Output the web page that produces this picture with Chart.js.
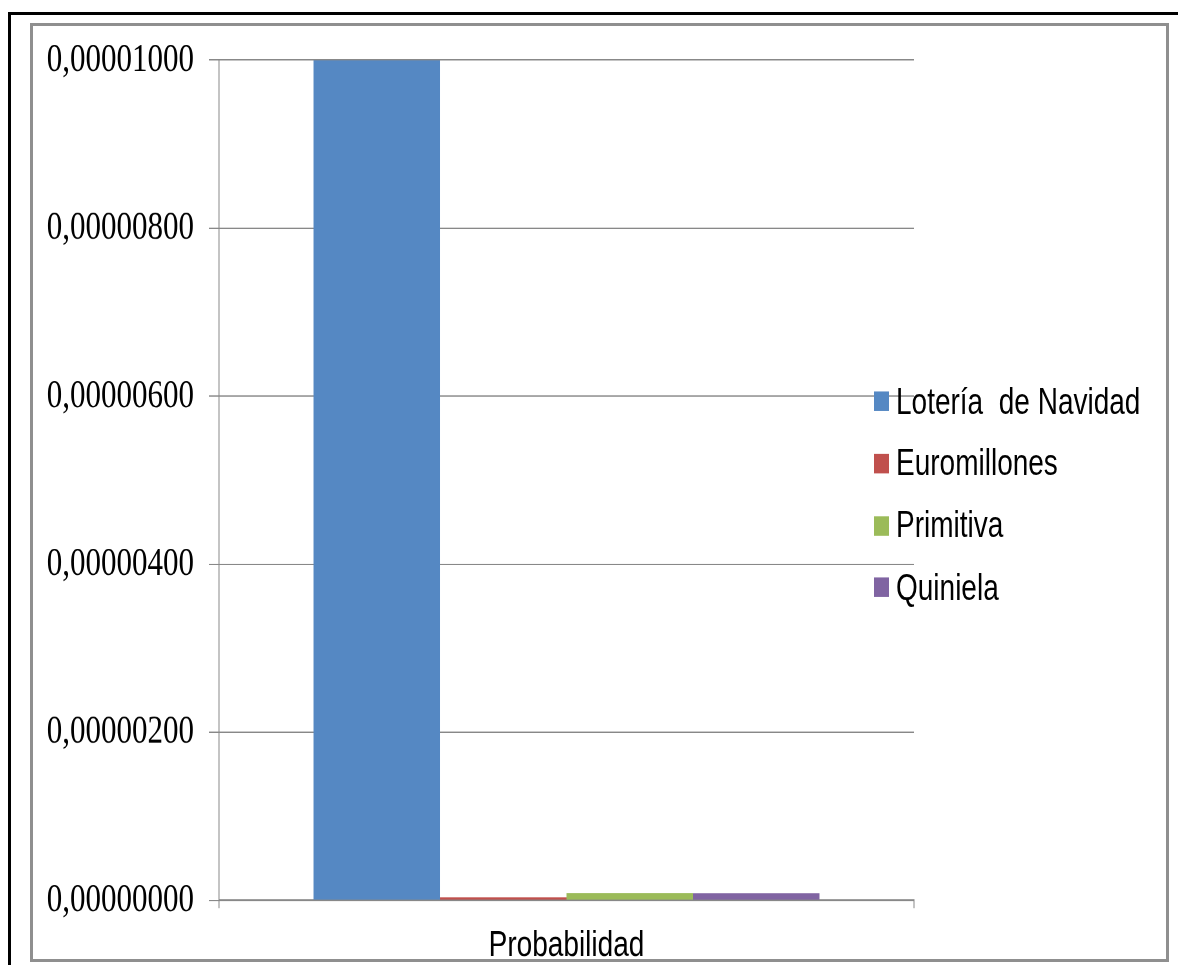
<!DOCTYPE html>
<html>
<head>
<meta charset="utf-8">
<script src="https://cdn.jsdelivr.net/npm/chart.js@4.4.1/dist/chart.umd.min.js"></script>
<style>
  html, body { margin: 0; padding: 0; background: #fff; width: 1178px; height: 965px; overflow: hidden; }
  #frame-outer { position: absolute; left: 8px; top: 12px; width: 1300px; height: 1100px; border: 3px solid #000; box-sizing: border-box; }
  #frame-inner { position: absolute; left: 30px; top: 23px; width: 1139px; height: 939px; border: 3px solid #8f8f8f; box-sizing: border-box; }
  /* the source picture is stretched vertically, so the whole chart is too */
  #stage { position: absolute; left: 0; top: 0; width: 1178px; height: 742px; transform-origin: 0 0; transform: scaleY(1.3005); }
  #stage canvas { position: absolute; left: 0; top: 0; }
  .item { position: absolute; left: 874px; height: 34px; display: flex; align-items: center; white-space: pre;
          font: 28px "Liberation Sans", Arial, sans-serif; color: #000; }
  .swatch { width: 15px; height: 15px; margin-right: 7px; }
</style>
</head>
<body>
<div id="frame-outer"></div>
<div id="frame-inner"></div>
<div id="stage">
  <canvas id="chart" width="1178" height="742"></canvas>
  <div id="legend"></div>
</div>
<script>
// Probabilidad de ganar: Lotería de Navidad vs Euromillones, Primitiva, Quiniela

const categories = ["Probabilidad"];
const seriesNames = ["Lotería  de Navidad", "Euromillones", "Primitiva", "Quiniela"];
const seriesValues = [0.00001, 0.000000035, 0.000000088, 0.000000085];
const yTicks = [0, 0.000002, 0.000004, 0.000006, 0.000008, 0.00001];

const COLORS = ["#5588c3", "#c0504d", "#9bbb59", "#8064a2"];
const GRID = "#888888";

const chart = new Chart(document.getElementById("chart"), {
  type: "bar",
  data: {
    labels: categories,
    datasets: seriesNames.map((name, i) => ({
      label: name,
      data: [seriesValues[i]],
      backgroundColor: COLORS[i],
      borderWidth: 0,
      categoryPercentage: 0.728,
      barPercentage: 1,
    })),
  },
  options: {
    responsive: false,
    animation: false,
    devicePixelRatio: 2,
    layout: { padding: { left: 0, right: 264, top: 46.2, bottom: 0 } },
    plugins: { legend: { display: false }, tooltip: { enabled: false } },
    scales: {
      x: {
        z: 1,
        grid: { offset: true, drawOnChartArea: false, drawTicks: true, tickLength: 6, color: GRID, lineWidth: 1 },
        border: { display: true, color: GRID, width: 1.5 },
        ticks: { color: "#000", padding: 12, font: { family: "'Liberation Sans', Arial, sans-serif", size: 28 } },
        afterFit: s => { s.height = 49.7; },
      },
      y: {
        min: 0,
        max: 0.00001,
        afterBuildTicks: s => { s.ticks = yTicks.map(v => ({ value: v })); },
        grid: { color: GRID, lineWidth: 1, drawTicks: true, tickLength: 10 },
        border: { display: true, color: GRID, width: 1 },
        ticks: {
          color: "#000",
          padding: 15,
          font: { family: "'Liberation Serif', 'Times New Roman', serif", size: 31 },
          callback: v => Number(v).toFixed(8).replace(".", ","),
        },
        afterFit: s => { s.width = 219; },
      },
    },
  },
});

// legend to the right, built from the chart's datasets
const legend = document.getElementById("legend");
chart.data.datasets.forEach((ds, i) => {
  const item = document.createElement("div");
  item.className = "item";
  item.style.top = (308.5 + i * 47.8 - 17) + "px";
  const sw = document.createElement("span");
  sw.className = "swatch";
  sw.style.background = ds.backgroundColor;
  item.appendChild(sw);
  item.appendChild(document.createTextNode(ds.label));
  legend.appendChild(item);
});
</script>
</body>
</html>
